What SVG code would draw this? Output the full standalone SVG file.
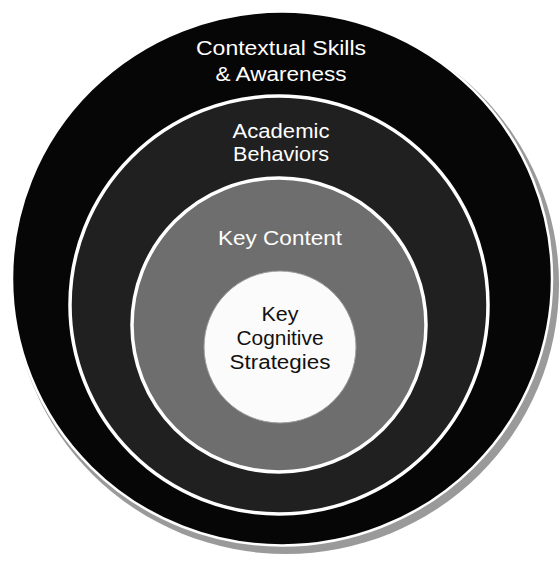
<svg xmlns="http://www.w3.org/2000/svg" width="559" height="562" viewBox="0 0 559 562">
<style>
.lbl{font-family:"Liberation Sans",Arial,sans-serif;font-size:20.5px;text-anchor:middle}
.w{fill:#ffffff}
.k{fill:#111111}
</style>
<rect width="559" height="562" fill="#ffffff"/>
<g id="shadow">
<ellipse cx="286" cy="284" rx="273" ry="270" fill="#9a9a9a"/>
</g>
<g id="contextual">
<ellipse cx="282" cy="278.5" rx="270" ry="267" fill="#060606" stroke="#ffffff" stroke-width="2.5"/>
<text class="lbl w" x="281" y="55" textLength="170" lengthAdjust="spacingAndGlyphs">Contextual Skills</text>
<text class="lbl w" x="281" y="81" textLength="131" lengthAdjust="spacingAndGlyphs">&amp; Awareness</text>
</g>
<g id="academic">
<circle cx="279" cy="305" r="209" fill="#202020" stroke="#ffffff" stroke-width="3.5"/>
<text class="lbl w" x="281" y="138" textLength="97" lengthAdjust="spacingAndGlyphs">Academic</text>
<text class="lbl w" x="281" y="161" textLength="96" lengthAdjust="spacingAndGlyphs">Behaviors</text>
</g>
<g id="keycontent">
<circle cx="279" cy="325" r="147" fill="#6e6e6e" stroke="#ffffff" stroke-width="3.5"/>
<text class="lbl w" x="280" y="245" textLength="124" lengthAdjust="spacingAndGlyphs">Key Content</text>
</g>
<g id="strategies">
<circle cx="280" cy="347" r="76" fill="#fbfbfb" stroke="#9a9a9a" stroke-width="1"/>
<text class="lbl k" x="280" y="321" textLength="37" lengthAdjust="spacingAndGlyphs">Key</text>
<text class="lbl k" x="280" y="345" textLength="87" lengthAdjust="spacingAndGlyphs">Cognitive</text>
<text class="lbl k" x="280" y="369" textLength="101" lengthAdjust="spacingAndGlyphs">Strategies</text>
</g>
<g id="connectors"/>
</svg>
